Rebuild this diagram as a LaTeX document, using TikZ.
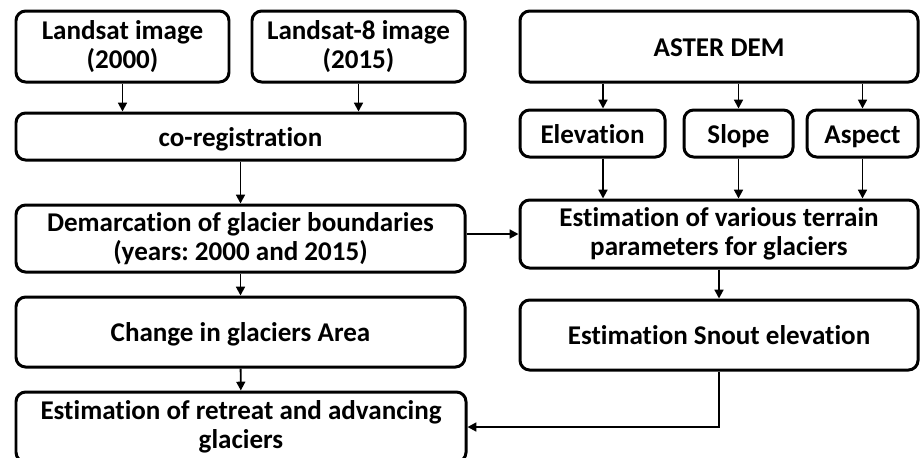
\documentclass[tikz,border=0pt]{standalone}
\usepackage{fontspec}
\setmainfont{Carlito}[Ligatures=NoCommon]
\frenchspacing
\usetikzlibrary{arrows.meta,positioning,calc}
\definecolor{ink}{RGB}{0,0,0}
\tikzset{
  blk/.style={draw=ink,line width=1.7pt,rounded corners=5.5pt,align=center,
    font=\fontsize{15.4}{16.2}\selectfont\bfseries,inner sep=2pt},
  one/.style={text height=11.5pt,text depth=0.5pt},
  arr/.style={-{Triangle[length=5pt,width=5pt]},line width=1.1pt,ink},
}

\begin{document}
\begin{tikzpicture}
\useasboundingbox (0,0) rectangle (18.4,-9.14);
% left column: image processing
\node[blk,minimum width=4.26cm,minimum height=1.42cm] (ls1) at (2.45,-0.93) {Landsat image\\(2000)};
\node[blk,minimum width=4.26cm,minimum height=1.42cm] (ls2) at (7.17,-0.93) {Landsat-8 image\\(2015)};
\node[blk,one,minimum width=8.98cm,minimum height=0.94cm] (coreg) at (4.81,-2.73) {co-registration};
\node[blk,minimum width=8.98cm,minimum height=1.34cm] (demarc) at (4.81,-4.77) {Demarcation of glacier boundaries\\(years: 2000 and 2015)};
\node[blk,one,minimum width=8.98cm,minimum height=1.40cm] (change) at (4.81,-6.64) {Change in glaciers Area};
\node[blk,minimum width=9.0cm,minimum height=1.40cm] (retreat) at (4.82,-8.54) {Estimation of retreat and advancing\\glaciers};
\draw[arr] (ls1) -- (coreg.north -| ls1);
\draw[arr] (ls2) -- (coreg.north -| ls2);
\draw[arr] (coreg) -- (demarc);
\draw[arr] (demarc) -- (change);
\draw[arr] (change) -- (retreat);
% right column: terrain from the DEM
\node[blk,one,minimum width=7.96cm,minimum height=1.42cm] (aster) at (14.38,-0.93) {ASTER DEM};
\node[blk,one,minimum width=2.90cm,minimum height=0.94cm] (elev) at (11.85,-2.67) {Elevation};
\node[blk,one,minimum width=2.18cm,minimum height=0.94cm] (slope) at (14.77,-2.67) {Slope};
\node[blk,one,minimum width=2.22cm,minimum height=0.94cm] (aspect) at (17.25,-2.67) {Aspect};
\node[blk,minimum width=7.96cm,minimum height=1.36cm] (terrain) at (14.38,-4.68) {Estimation of various terrain\\parameters for glaciers};
\node[blk,one,minimum width=7.96cm,minimum height=1.40cm] (snout) at (14.38,-6.70) {Estimation Snout elevation};
\coordinate (ex) at (12.06,0);
\draw[arr] (aster.south -| ex) -- (elev.north -| ex);
\draw[arr] (aster.south -| slope) -- (slope);
\draw[arr] (aster.south -| aspect) -- (aspect);
\draw[arr] (elev.south -| ex) -- (terrain.north -| ex);
\draw[arr] (slope) -- (terrain.north -| slope);
\draw[arr] (aspect) -- (terrain.north -| aspect);
\draw[arr] (terrain) -- (snout);
% joining the two columns
\draw[arr] (demarc.east |- terrain.west) -- (terrain.west);
\draw[arr] (snout.south) |- (retreat.east);
\end{tikzpicture}
\end{document}
